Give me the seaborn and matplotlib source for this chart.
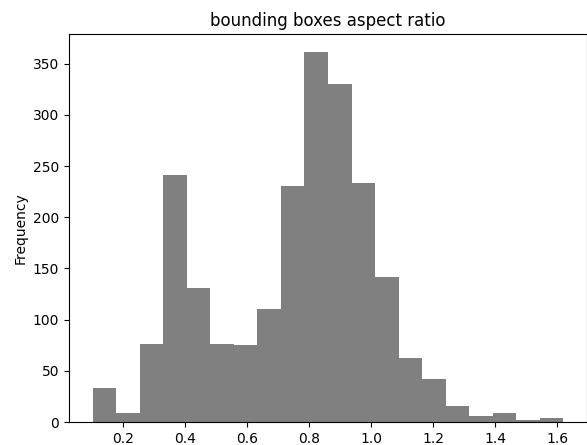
import numpy as np
import pandas as pd
import seaborn as sns
import matplotlib
matplotlib.use("Agg")
import matplotlib.pyplot as plt

bin_min = 0.101
bin_max = 1.620
counts = [33, 9, 76, 241, 131, 76, 75, 110, 231, 361,
          330, 233, 142, 63, 42, 16, 6, 9, 2, 4]

edges = np.linspace(bin_min, bin_max, len(counts) + 1)
centers = (edges[:-1] + edges[1:]) / 2
df = pd.DataFrame({"ratio": centers, "count": counts})

plt.rcParams["font.family"] = ["DejaVu Sans"]
fig = plt.figure(figsize=(5.87, 4.45), dpi=100)
ax = fig.add_axes([69 / 587, 23 / 445, 518 / 587, 388 / 445])
sns.histplot(data=df, x="ratio", weights="count", bins=edges.tolist(), ax=ax,
             color="grey", alpha=1.0, edgecolor="grey", linewidth=0)
ax.set_xlim(bin_min - 0.05 * (bin_max - bin_min), bin_max + 0.05 * (bin_max - bin_min))
ax.set_ylim(0, max(counts) * 1.05)
ax.set_title("bounding boxes aspect ratio", fontsize=12)
ax.set_ylabel("Frequency", fontsize=10)
ax.set_xlabel("")
fig.savefig("out.png", dpi=100)
